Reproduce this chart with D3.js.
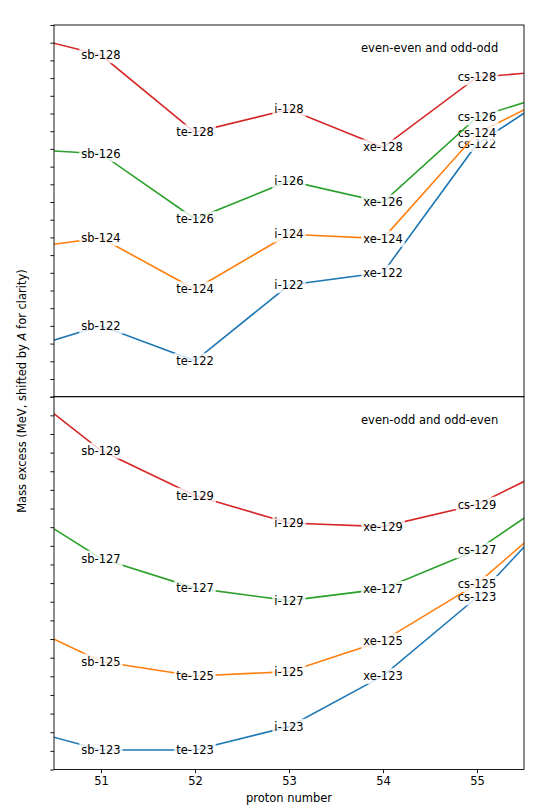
<!DOCTYPE html>
<html>
<head>
<meta charset="utf-8">
<script src="https://cdn.jsdelivr.net/npm/d3@7"></script>
<style>
body { margin: 0; background: #fff; }
text { font-family: "DejaVu Sans", sans-serif; }
</style>
</head>
<body>
<svg id="Chart" width="540" height="810"></svg>
<script>
// proton numbers (50 and 56 fall outside the axes, only the slope shows)
var protonNumbers = [50, 51, 52, 53, 54, 55, 56];
var elements = ["sn", "sb", "te", "i", "xe", "cs", "ba"];
var xTicks = [51, 52, 53, 54, 55];

// top panel: even-even and odd-odd
var massA_top = [122, 124, 126, 128];
var ee122 = [2.39, 4.01, 2.03, 6.31, 7.01, 14.28, 17.74];
var ee124 = [8.25, 8.97, 6.07, 9.18, 8.93, 14.88, 17.52];
var ee126 = [14.03, 13.73, 10.04, 12.19, 10.98, 15.79, 17.43];
var ee128 = [20.64, 19.30, 14.94, 16.24, 14.09, 18.05, 18.49];

// bottom panel: even-odd and odd-even
var massA_bottom = [123, 125, 127, 129];
var eo123 = [2.41, 1.05, 1.05, 2.30, 5.02, 9.24, 14.62];
var eo125 = [8.19, 5.79, 5.02, 5.25, 6.90, 9.96, 14.32];
var eo127 = [14.50, 11.32, 9.73, 9.06, 9.69, 11.77, 15.19];
var eo129 = [21.05, 17.11, 14.70, 13.22, 13.03, 14.21, 16.69];

var colors = ["#1f77b4", "#ff7f0e", "#2ca02c", "#d62728"];
var fs = 11.5;

var svg = d3.select("#Chart");
var left = 54, right = 524;

var x = d3.scaleLinear().domain([50.5, 55.5]).range([left, right]);

function drawPanel(id, top, bottom, yMax, masses, series, title, showX){
	var y = d3.scaleLinear().domain([0, yMax]).range([bottom, top]);

	svg.append("clipPath").attr("id", "clip_" + id)
	.append("rect")
	.attr("x", left).attr("y", top)
	.attr("width", right - left).attr("height", bottom - top);

	var g = svg.append("g");
	var plot = g.append("g").attr("clip-path", "url(#clip_" + id + ")");

	var line = d3.line()
	.x(function(d, i){ return x(protonNumbers[i]); })
	.y(function(d){ return y(d); });

	series.forEach(function(vals, s){
		plot.append("path")
		.attr("d", line(vals))
		.attr("fill", "none")
		.attr("stroke", colors[s])
		.attr("stroke-width", 1.6);

		for(var i = 1; i < protonNumbers.length - 1; i++){
			var lg = plot.append("g")
			.attr("transform", "translate(" + x(protonNumbers[i]) + "," + y(vals[i]) + ")");
			var t = lg.append("text")
			.attr("text-anchor", "middle")
			.attr("dy", "0.36em")
			.attr("font-size", fs)
			.attr("fill", "#000")
			.text(elements[i] + "-" + masses[s]);
			var bb = t.node().getBBox();
			lg.insert("rect", "text")
			.attr("x", bb.x - 2).attr("y", bb.y - 1)
			.attr("width", bb.width + 4).attr("height", bb.height + 2)
			.attr("fill", "#fff").attr("fill-opacity", 0.8);
		}
	});

	// y axis: ticks only
	g.append("g")
	.attr("transform", "translate(" + left + ",0)")
	.call(d3.axisLeft(y).tickValues(d3.range(0, yMax + 1)).tickSize(3.7).tickFormat(""))
	.call(function(a){ a.select(".domain").remove(); a.selectAll("line").attr("stroke", "#000").attr("stroke-width", 0.9); });

	if(showX){
		var ax = g.append("g")
		.attr("transform", "translate(0," + bottom + ")")
		.call(d3.axisBottom(x).tickValues(xTicks).tickSize(3.7).tickPadding(4).tickFormat(d3.format("d")));
		ax.select(".domain").remove();
		ax.selectAll("line").attr("stroke", "#000").attr("stroke-width", 0.9);
		ax.selectAll("text").attr("font-size", fs).attr("font-family", "DejaVu Sans").attr("fill", "#000");
	}

	g.append("rect")
	.attr("x", left).attr("y", top)
	.attr("width", right - left).attr("height", bottom - top)
	.attr("fill", "none").attr("stroke", "#000").attr("stroke-width", 0.9);

	g.append("text")
	.attr("x", 361).attr("y", top + 23)
	.attr("dy", "0.36em")
	.attr("font-size", fs)
	.text(title);
}

drawPanel("top", 25, 396.7, 21, massA_top, [ee122, ee124, ee126, ee128], "even-even and odd-odd", false);
drawPanel("bottom", 396.7, 769.5, 20, massA_bottom, [eo123, eo125, eo127, eo129], "even-odd and odd-even", true);

svg.append("text")
.attr("x", 289).attr("y", 798)
.attr("dy", "0.36em")
.attr("text-anchor", "middle")
.attr("font-size", fs)
.text("proton number");

var yl = svg.append("text")
.attr("transform", "translate(22,391) rotate(-90)")
.attr("dy", "0.36em")
.attr("text-anchor", "middle")
.attr("font-size", fs);
yl.append("tspan").text("Mass excess (MeV, shifted by ");
yl.append("tspan").attr("font-style", "italic").text("A");
yl.append("tspan").text(" for clarity)");
</script>
</body>
</html>
